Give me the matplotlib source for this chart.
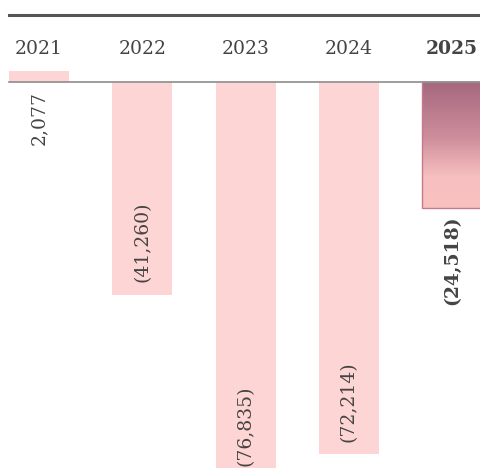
import numpy as np
import matplotlib.pyplot as plt
from matplotlib.colors import LinearSegmentedColormap

years = ['2021', '2022', '2023', '2024', '2025']
values = [2077, -41260, -76835, -72214, -24518]
labels = ['2,077', '(41,260)', '(76,835)', '(72,214)', '(24,518)']

pink = '#fdd5d4'
txt = '#444444'
plt.rcParams['font.family'] = ['DejaVu Serif']

fig = plt.figure(figsize=(4.81, 4.68), dpi=100)
ax = fig.add_axes([0, 0, 1, 1])
ax.set_axis_off()

x = np.arange(len(years))
w = 0.58
bars = ax.bar(x[:-1], values[:-1], width=w, color=pink, zorder=2)

# last year: gradient bar
last = ax.bar(x[-1], values[-1], width=w, facecolor='none',
              edgecolor='#c27b8e', linewidth=1.0, zorder=4)[0]
cmap = LinearSegmentedColormap.from_list(
    'g', [(0, '#a4677e'), (0.45, '#cf8e9c'), (0.75, '#f7bfbf'), (1, '#f9c1c0')])
grad = np.linspace(0, 1, 256).reshape(-1, 1)
im = ax.imshow(grad, cmap=cmap, aspect='auto', zorder=3,
               extent=[x[-1] - w / 2, x[-1] + w / 2, values[-1], 0])
im.set_clip_path(last)

ax.set_xlim(-0.3775, 4.279)
ax.set_ylim(-74830, 15780)

# zero line and top rule
ax.axhline(0, xmin=0.0187, xmax=1, color='#8c8c8c', lw=1.2, zorder=5)
ax.axhline(15780 - 15 * 193.6, xmin=0.0187, xmax=1, color='#555555', lw=2.2, zorder=5)

fs = 13.5
# year labels
for i, yr in enumerate(years):
    ax.text(i, 0.895, yr, transform=ax.get_xaxis_transform(), ha='center',
            va='center', fontsize=fs, color=txt,
            fontweight='bold' if i == len(years) - 1 else 'normal')

# value labels
for i, (v, lab) in enumerate(zip(values, labels)):
    if v > 0:
        ax.annotate(lab, (i, 0), xytext=(0, -7), textcoords='offset points',
                    rotation=90, ha='center', va='top', fontsize=fs, color=txt,
                    annotation_clip=False)
    elif i == len(values) - 1:
        ax.annotate(lab, (i, v), xytext=(0, -5), textcoords='offset points',
                    rotation=90, ha='center', va='top', fontsize=fs,
                    color=txt, fontweight='bold', annotation_clip=False)
    else:
        ax.annotate(lab, (i, v), xytext=(0, 9), textcoords='offset points',
                    rotation=90, ha='center', va='bottom', fontsize=fs, color=txt,
                    annotation_clip=False)

plt.savefig('out.png', dpi=100)
